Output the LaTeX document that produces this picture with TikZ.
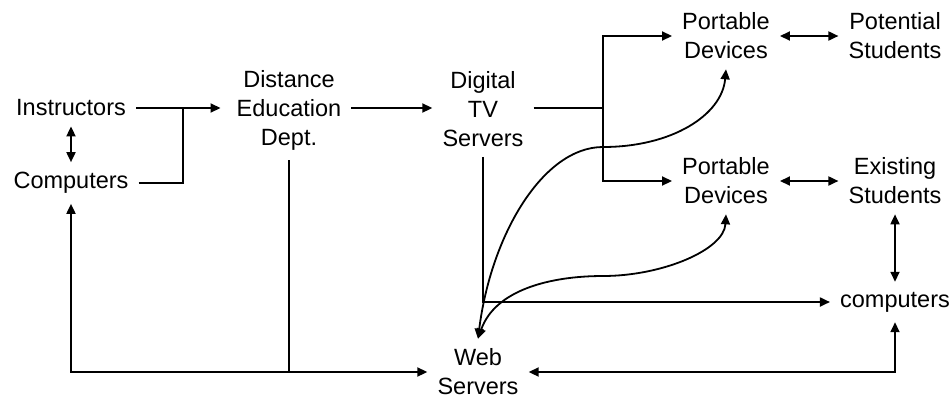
\documentclass[tikz,border=0pt]{standalone}
\usepackage{fontspec}
\setmainfont{Liberation Sans}
\usetikzlibrary{arrows.meta}
\begin{document}
\begin{tikzpicture}[x=1pt,y=-1pt,
  lbl/.style={align=center,inner xsep=10pt,inner ysep=10pt,font=\fontsize{23.5}{29}\selectfont},
  conn/.style={line width=1.8pt},
  arr/.style={conn,-{Triangle[length=10pt,width=9pt]}},
  dbl/.style={conn,{Triangle[length=10pt,width=9pt]}-{Triangle[length=10pt,width=9pt]}}]
\useasboundingbox (0,0) rectangle (952,397);
\node[lbl] (instr) at (71,108) {Instructors};
\node[lbl] (comp) at (71,183) {Computers};
\node[lbl] (ded) at (289,110) {Distance\\Education\\Dept.};
\node[lbl] (dtv) at (483,109) {Digital\\TV\\Servers};
\node[lbl] (pd1) at (726,36) {Portable\\Devices};
\node[lbl] (pot) at (895,36) {Potential\\Students};
\node[lbl] (pd2) at (726,181) {Portable\\Devices};
\node[lbl] (exi) at (895,181) {Existing\\Students};
\node[lbl] (comps) at (895,302) {computers};
\node[lbl] (web) at (478,372) {Web\\Servers};
\coordinate (j1) at (183,108);
\coordinate (j2) at (603,108);
% left part
\draw[dbl] (instr.south) -- (comp.north);
\draw[arr] (instr.east) -- ([xshift=-6pt]ded.west |- instr.east);
\draw[conn] (comp.east) -| (j1);
\draw[arr] (ded.east |- instr.east) -- (dtv.west |- instr.east);
% digital TV branching
\draw[conn] (dtv.east |- instr.east) -- (j2);
\draw[arr] (j2) |- (pd1.west);
\draw[arr] (j2) |- (pd2.west);
\draw[dbl] (pd1.east) -- (pot.west);
\draw[dbl] (pd2.east) -- (exi.west);
\draw[dbl] (exi.south) -- (comps.north);
\draw[arr] (dtv.south) |- (comps.west);
% curves
\draw[dbl] (web.north) .. controls (491,235) and (543,147) .. (603,147)
  .. controls (672,147) and (722,115) .. (pd1.south);
\draw[dbl] (web.north) .. controls (495,290) and (550,276) .. (603,276)
  .. controls (662,276) and (724,250) .. (pd2.south);
% bottom
\draw[dbl] (web.east) -| (comps.south);
\draw[dbl] (comp.south) |- (web.west);
\draw[conn] (ded.south) -- (ded.south |- web.west);
\end{tikzpicture}
\end{document}
